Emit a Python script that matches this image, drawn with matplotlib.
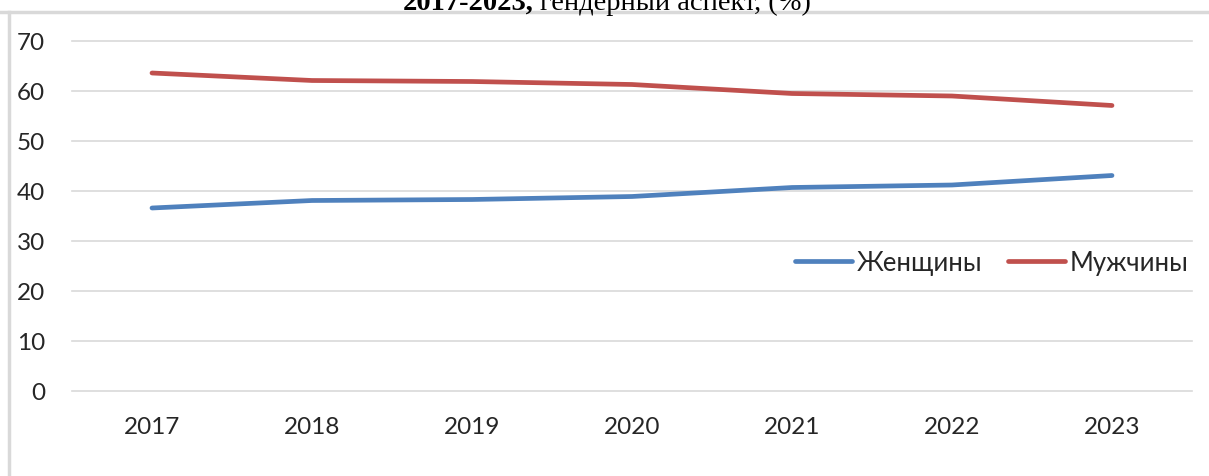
import matplotlib
matplotlib.use("Agg")
import matplotlib.pyplot as plt
from matplotlib.lines import Line2D

years = ["2017", "2018", "2019", "2020", "2021", "2022", "2023"]
women = [36.5, 38.0, 38.2, 38.8, 40.6, 41.1, 43.0]
men = [63.5, 62.0, 61.8, 61.2, 59.4, 58.9, 57.0]
series_names = ["Женщины", "Мужчины"]
yticks = [0, 10, 20, 30, 40, 50, 60, 70]

W, H = 1209, 477
fig = plt.figure(figsize=(W / 100, H / 100), dpi=100)
fig.patch.set_facecolor("white")

ax = fig.add_axes([72 / W, 85.5 / H, (1192 - 72) / W, (390 - 40) / H])
x = list(range(len(years)))
ax.plot(x, women, color="#4F81BD", lw=3.4, solid_capstyle="round", label=series_names[0])
ax.plot(x, men, color="#C0504D", lw=3.4, solid_capstyle="round", label=series_names[1])

ax.set_xlim(-0.5, len(years) - 0.5)
ax.set_ylim(0, 70)
ax.set_yticks(yticks)
ax.set_xticks(x)
ax.set_xticklabels(years)
for s in ax.spines.values():
    s.set_visible(False)
ax.grid(axis="y", color="#D9D9D9", lw=1.2)
ax.set_axisbelow(True)
ax.tick_params(axis="both", length=0, labelsize=17.5, colors="#404040", labelcolor="#262626")
ax.tick_params(axis="x", pad=18.5)
ax.tick_params(axis="y", pad=19.5)
for lbl in ax.get_xticklabels() + ax.get_yticklabels():
    lbl.set_fontfamily("Lato")
for gl in ax.get_ygridlines():
    gl.set_clip_on(False)

leg = ax.legend(loc="center right", bbox_to_anchor=(1.006, 0.366), ncol=2, frameon=False,
                prop={"family": "Lato", "size": 18.5}, handlelength=2.2, handletextpad=0.2,
                columnspacing=1.0, borderaxespad=0.0)
for t in leg.get_texts():
    t.set_color("#262626")

# frame lines of the chart area
fig.add_artist(Line2D([0, 1], [1 - 13 / H, 1 - 13 / H], transform=fig.transFigure,
                      color="#D9D9D9", lw=2.5))
fig.add_artist(Line2D([9 / W, 9 / W], [0, 1 - 13 / H], transform=fig.transFigure,
                      color="#D9D9D9", lw=2.5))

# clipped title remnant (cut off at the top edge, as in the source image)
fig.text(534 / W, 1 - 10 / H, "2017-2023,", ha="right", va="baseline",
         fontfamily="Liberation Serif", fontweight="bold", fontsize=20.5, color="black")
fig.text(540 / W, 1 - 10 / H, "гендерный аспект, (%)", ha="left", va="baseline",
         fontfamily="Liberation Serif", fontsize=20.5, color="black")

fig.savefig("out.png", dpi=100, facecolor="white")
